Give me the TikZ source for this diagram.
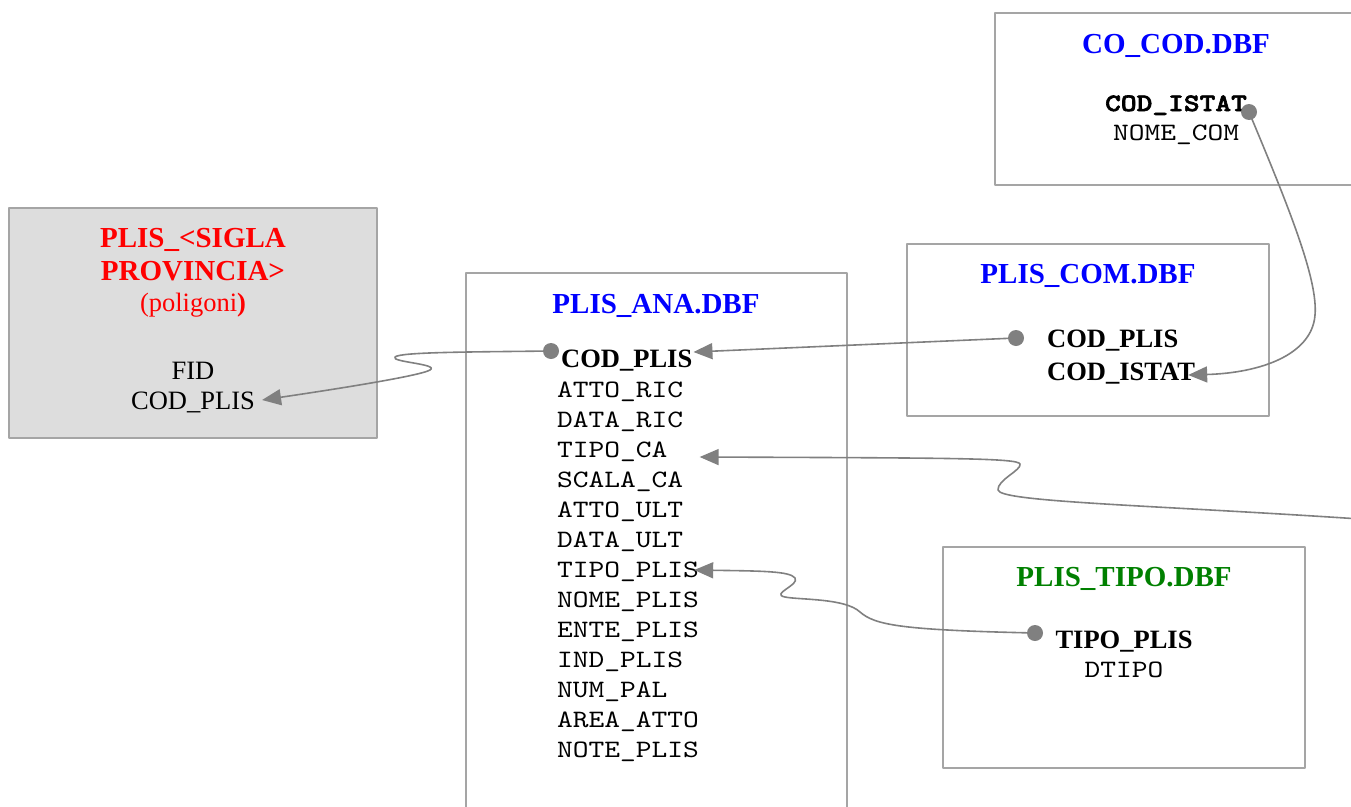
\documentclass[tikz,border=0pt]{standalone}
\usepackage{fontspec}
\setmainfont{Liberation Serif}
\setmonofont{lmmono10-regular.otf}[FakeStretch=1.2]
\newfontfamily\keytt{lmmonolt10-bold.otf}[FakeStretch=1.2,FakeBold=2.5]
\usetikzlibrary{arrows.meta}
\definecolor{linkgray}{RGB}{128,128,128}
\definecolor{boxgray}{RGB}{165,165,165}
\definecolor{shpfill}{RGB}{221,221,221}
\definecolor{dbfblue}{RGB}{0,0,255}
\definecolor{shpred}{RGB}{255,0,0}
\definecolor{dbfgreen}{RGB}{0,128,0}
\begin{document}
\begin{tikzpicture}[line cap=round,line join=round,x=1pt,y=-1pt,
  tbl/.style={draw=boxgray,line width=1.3pt,inner sep=0pt},
  title/.style={font=\fontsize{29}{33}\selectfont\bfseries,anchor=base,inner sep=0pt},
  attr/.style={font=\fontsize{26.5}{30}\selectfont,anchor=base,inner sep=0pt},
  key/.style={font=\fontsize{26.5}{30}\selectfont\bfseries,anchor=base west,inner sep=0pt},
  fld/.style={font=\fontsize{25}{30}\selectfont\ttfamily,anchor=base west,inner sep=0pt},
  dot/.style={circle,fill=linkgray,minimum size=16pt,inner sep=0pt},
  link/.style={draw=linkgray,line width=1.6pt,-{Triangle[length=19pt,width=16pt]}}]
\useasboundingbox (0,0) rectangle (1351,806);
% tables
\node[tbl,fill=shpfill,minimum width=368pt,minimum height=230pt] (sigla) at (193,323) {};
\node[tbl,minimum width=381pt,minimum height=557pt] (ana) at (656.5,551.5) {};
\node[tbl,minimum width=362pt,minimum height=172pt] (com) at (1088,330) {};
\node[tbl,minimum width=362pt,minimum height=172pt] (cocod) at (1176,99) {};
\node[tbl,minimum width=362pt,minimum height=221pt] (tipo) at (1124,657.5) {};
% PLIS_<SIGLA PROVINCIA>
\node[title,text=shpred] (siglat1) at (193,247) {PLIS\_<SIGLA};
\node[title,text=shpred] (siglat2) at (193,280) {PROVINCIA>};
\node[attr,text=shpred] (siglat3) at (193,311) {(poligoni\textbf{)}};
\node[attr] (sigfid) at (193,379) {FID};
\node[attr] (sigcod) at (193,409) {COD\_PLIS};
% PLIS_ANA.DBF
\node[title,text=dbfblue] (anat) at (656,313) {PLIS\_ANA.DBF};
\node[key] (anacod) at (561,367) {COD\_PLIS};
\node[fld] (anaatto) at (557,397) {ATTO\_RIC};
\node[fld] (anadata) at (557,427) {DATA\_RIC};
\node[fld] (anatipoca) at (557,457) {TIPO\_CA};
\node[fld] (anascala) at (557,487) {SCALA\_CA};
\node[fld] (anaattoult) at (557,517) {ATTO\_ULT};
\node[fld] (anadatault) at (557,547) {DATA\_ULT};
\node[fld] (anatipo) at (557,577) {TIPO\_PLIS};
\node[fld] (ananome) at (557,607) {NOME\_PLIS};
\node[fld] (anaente) at (557,637) {ENTE\_PLIS};
\node[fld] (anaind) at (557,667) {IND\_PLIS};
\node[fld] (ananum) at (557,697) {NUM\_PAL};
\node[fld] (anaarea) at (557,727) {AREA\_ATTO};
\node[fld] (ananote) at (557,757) {NOTE\_PLIS};
% PLIS_COM.DBF
\node[title,text=dbfblue] (comt) at (1088,283) {PLIS\_COM.DBF};
\node[key] (comcod) at (1047,347) {COD\_PLIS};
\node[key] (comistat) at (1047,380) {COD\_ISTAT};
% CO_COD.DBF
\node[title,text=dbfblue] (cocodt) at (1176,53) {CO\_COD.DBF};
\node[attr,font=\fontsize{25}{30}\selectfont\keytt] (cocodistat) at (1176,111) {COD\_ISTAT};
\node[attr,font=\fontsize{25}{30}\selectfont\ttfamily] (cocodnome) at (1176,140) {NOME\_COM};
% PLIS_TIPO.DBF
\node[title,text=dbfgreen] (tipot) at (1124,586) {PLIS\_TIPO.DBF};
\node[attr,font=\fontsize{26.5}{30}\selectfont\bfseries] (tipocod) at (1124,648) {TIPO\_PLIS};
\node[attr,font=\fontsize{25}{30}\selectfont\ttfamily] (tipodesc) at (1124,677) {DTIPO};
% links
\node[dot] (d1) at (551,351) {};
\draw[link] (d1.center) .. controls (470,352) and (400,352) .. (395,357) .. controls (390,362) and (440,364) .. (430,370) .. controls (420,376) and (330,390) .. ([shift={(7,-9)}]sigcod.base east);
\node[dot] (d2) at (1016,338) {};
\draw[link] (d2.center) -- ([shift={(1,-15)}]anacod.base east);
\node[dot] (d3) at (1249,112) {};
\draw[link] (d3.center) .. controls (1290,210) and (1318,280) .. (1315,315) .. controls (1312,355) and (1260,373) .. ([shift={(-7,-5)}]comistat.base east);
\coordinate (off) at (1360,519);
\draw[link] (off) .. controls (1150,505) and (1000,502) .. (998,490) .. controls (997,480) and (1022,470) .. (1020,464) .. controls (1018,458) and (950,458) .. ([shift={(32,0)}]anatipoca.base east);
\node[dot] (d5) at (1035,633) {};
\draw[link] (d5.center) .. controls (900,630) and (875,625) .. (860,612) .. controls (845,598) and (800,600) .. (785,597) .. controls (770,594) and (800,585) .. (795,578) .. controls (790,571) and (760,571) .. ([shift={(-5,-7)}]anatipo.base east);
\end{tikzpicture}
\end{document}
